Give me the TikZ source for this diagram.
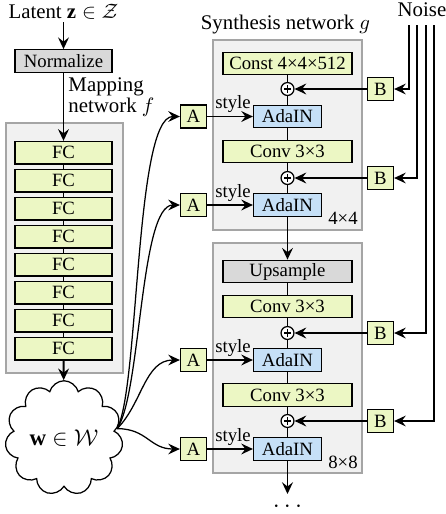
\documentclass[tikz,border=0pt]{standalone}
\usepackage{fontspec}
\setmainfont{Liberation Serif}
\usetikzlibrary{arrows.meta,shapes.symbols}
\definecolor{lgreen}{RGB}{236,247,196}
\definecolor{lblue}{RGB}{198,224,247}
\definecolor{lgray}{RGB}{241,241,241}
\definecolor{mgray}{RGB}{165,165,165}
\definecolor{dgray}{RGB}{217,217,217}
\begin{document}
\begin{tikzpicture}[x=.48pt,y=-.48pt,>={Stealth[length=5.6pt,width=5.2pt,inset=2pt]},
box/.style={draw,line width=.6pt,inner sep=0pt,minimum height=10.8pt,font=\small},
fc/.style={box,fill=lgreen,minimum width=46.6pt},conv/.style={box,fill=lgreen,minimum width=62pt},
ada/.style={box,fill=lblue,minimum width=32.6pt},ab/.style={box,fill=lgreen,minimum width=12.5pt,minimum height=11pt},
sum/.style={circle,draw,line width=.6pt,fill=white,inner sep=0pt,minimum size=6.2pt,path picture={\draw[line width=.5pt] ([yshift=1.7pt]path picture bounding box.center)--([yshift=-1.7pt]path picture bounding box.center) ([xshift=1.7pt]path picture bounding box.center)--([xshift=-1.7pt]path picture bounding box.center);}},
bg/.style={draw=mgray,fill=lgray,line width=.6pt},arr/.style={->,line width=.9pt},thin/.style={->,line width=.6pt},
lbl/.style={inner sep=1pt,font=\small}]
\useasboundingbox (0,0) rectangle (446,514);
\draw[bg] (6,123) rectangle (123,373);\draw[bg] (213,40) rectangle (362,230);\draw[bg] (213,243) rectangle (362,473);
\node[lbl,font=\normalsize] (lat) at (63.5,12) {Latent $\mathbf{z}\in\mathcal{Z}$};
\node[box,fill=dgray,minimum width=46.6pt] (norm) at (63.5,61) {Normalize};
\node[lbl,font=\normalsize,anchor=west,align=left] (mapl) at (66,97) {Mapping\\[-2pt]network $f$};
\foreach \i in {0,...,7}{\node[fc] (fc\i) at (63.5,152.7+28*\i) {FC};}
\foreach \i/\j in {0/1,1/2,2/3,3/4,4/5,5/6,6/7}{\draw[line width=.6pt] (fc\i)--(fc\j);}
\node[cloud,draw,line width=.6pt,fill=white,cloud puffs=11,minimum width=56.6pt,minimum height=43.2pt,inner sep=0pt,font=\fontsize{11}{13}\selectfont] (w) at (64,438) {$\mathbf{w}\in\mathcal{W}$};
\draw[arr] (lat)--(norm);\draw[arr] (norm)--(fc0);\draw[arr] (fc7)--(w);
\node[lbl,font=\normalsize] (syn) at (285.5,25) {Synthesis network $g$};
\node[lbl,font=\normalsize] (noise) at (422,10) {Noise};
\node[conv] (const) at (287.5,63.5) {Const 4×4×512};\node[sum] (s1) at (287.5,89) {};
\node[ada] (ada1) at (287.5,116.5) {AdaIN};\node[conv] (conv1) at (287.5,151.5) {Conv 3×3};
\node[sum] (s2) at (287.5,178) {};\node[ada] (ada2) at (287.5,205) {AdaIN};
\node[lbl] (r4) at (343,218) {4×4};
\node[box,fill=dgray,minimum width=62pt] (up) at (287.5,271.5) {Upsample};
\node[conv] (conv2) at (287.5,306.5) {Conv 3×3};\node[sum] (s3) at (287.5,333) {};
\node[ada] (ada3) at (287.5,360) {AdaIN};\node[conv] (conv3) at (287.5,395) {Conv 3×3};
\node[sum] (s4) at (287.5,421) {};\node[ada] (ada4) at (287.5,449) {AdaIN};
\node[lbl] (r8) at (343,462) {8×8};
\node[lbl,font=\large] (dots) at (287.5,507) {$\cdots$};\coordinate (out) at (287.5,494);
\foreach \a/\b in {const/s1,s1/ada1,ada1/conv1,conv1/s2,s2/ada2,up/conv2,conv2/s3,s3/ada3,ada3/conv3,conv3/s4,s4/ada4}{\draw[line width=.6pt] (\a)--(\b);}
\draw[arr] (ada2)--(up);\draw[arr] (ada4)--(out);
\foreach \i/\y in {1/116.5,2/205,3/360,4/449}{\node[ab] (a\i) at (193.5,\y) {A};\draw[arr] (a\i)--(ada\i);\node[lbl] (st\i) at (233,\y-12) {style};}
\foreach \i/\y/\x in {1/89/409,2/178/417,3/333/426,4/421/434}{\node[ab] (b\i) at (380.5,\y) {B};\draw[arr] (b\i)--(s\i);\coordinate (n\i) at (\x,25);\draw[thin] (n\i)|-(b\i);}
\draw[thin] (w.10) .. controls +(22,-40) and +(-45,0) .. (a1.west);
\draw[thin] (w.10) .. controls +(24,-35) and +(-40,0) .. (a2.west);
\draw[thin] (w.10) .. controls +(25,-25) and +(-35,0) .. (a3.west);
\draw[thin] (w.10) .. controls +(30,0) and +(-30,0) .. (a4.west);
\end{tikzpicture}
\end{document}
